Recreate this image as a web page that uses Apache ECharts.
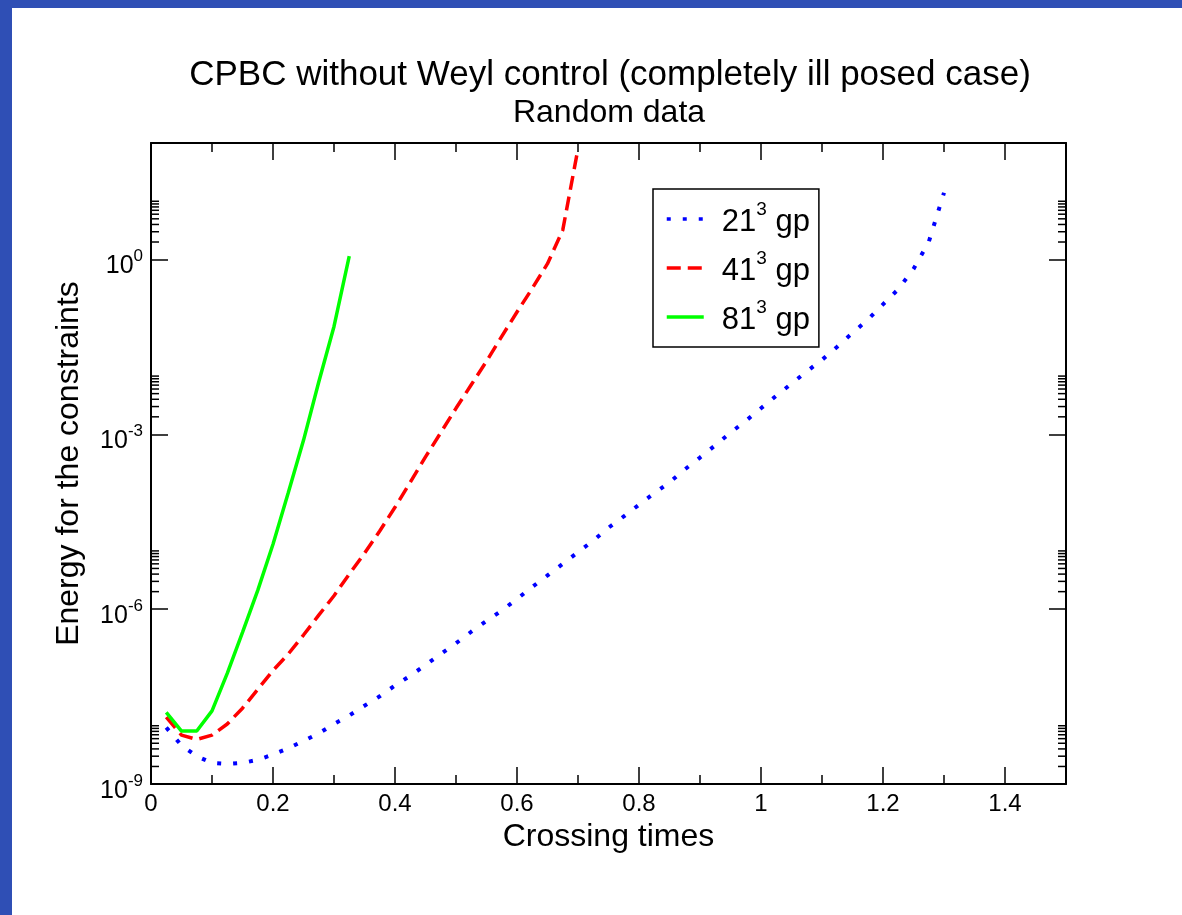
<!DOCTYPE html>
<html>
<head>
<meta charset="utf-8">
<script src="https://cdn.jsdelivr.net/npm/echarts@6/dist/echarts.min.js"></script>
<style>
html, body { margin: 0; padding: 0; background: #fff; }
#chart { width: 1182px; height: 915px; }
</style>
</head>
<body>
<div id="chart"></div>
<script>
// crossing times and constraint energies
var t21 = [0.025,0.05,0.075,0.1,0.125,0.15,0.175,0.2,0.225,0.25,0.275,0.3,0.325,0.35,0.375,0.4,0.425,0.45,0.475,0.5,
           0.525,0.55,0.575,0.6,0.625,0.65,0.675,0.7,0.725,0.75,0.775,0.8,0.825,0.85,0.875,0.9,0.925,0.95,0.975,1,
           1.025,1.05,1.075,1.1,1.125,1.15,1.175,1.2,1.225,1.25,1.275,1.3];
var e21 = [9.3e-9,4.6e-9,3.0e-9,2.3e-9,2.2e-9,2.3e-9,2.6e-9,3.2e-9,4.1e-9,5.5e-9,7.4e-9,1.07e-8,1.5e-8,2.2e-8,3.2e-8,
           4.9e-8,7.2e-8,1.1e-7,1.7e-7,2.6e-7,4.1e-7,6.3e-7,9.5e-7,1.5e-6,2.4e-6,3.8e-6,6.0e-6,9.5e-6,1.5e-5,2.5e-5,
           3.9e-5,6.2e-5,9.8e-5,1.5e-4,2.5e-4,4.0e-4,6.5e-4,1.07e-3,1.7e-3,2.8e-3,4.6e-3,7.4e-3,1.2e-2,1.9e-2,3.2e-2,
           5.5e-2,9.3e-2,0.17,0.31,0.69,2.0,14];
var t41 = [0.025,0.05,0.075,0.1,0.125,0.15,0.175,0.2,0.225,0.25,0.275,0.3,0.325,0.35,0.375,0.4,0.425,0.45,0.475,0.5,
           0.525,0.55,0.575,0.6,0.625,0.65,0.675,0.7];
var e41 = [1.4e-8,6.9e-9,5.8e-9,6.9e-9,1.07e-8,2.0e-8,4.2e-8,8.9e-8,1.7e-7,3.6e-7,7.9e-7,1.7e-6,4.0e-6,9.1e-6,2.2e-5,
           5.6e-5,1.5e-4,4.1e-4,1.07e-3,2.8e-3,7.1e-3,1.8e-2,4.8e-2,0.126,0.32,0.85,3.2,80];
var t81 = [0.025,0.05,0.075,0.1,0.125,0.15,0.175,0.2,0.225,0.25,0.275,0.3,0.325];
var e81 = [1.7e-8,8.1e-9,8.1e-9,1.8e-8,7.9e-8,4.0e-7,2.1e-6,1.3e-5,1.0e-4,7.9e-4,7.9e-3,7.1e-2,1.15];

var gridSizes = ['21', '41', '81'];
var xMinorTicks = [0.1,0.3,0.5,0.7,0.9,1.1,1.3];
var yMinorMant = [2,3,4,5,6,7,8,9,10];
var yMajorDecades = [-9,-6,-3,0];

var FONT = '"Liberation Sans", Arial, Helvetica, sans-serif';

function pairs(t, e) {
	return t.map(function (x, i) { return [x, e[i]]; });
}
var yMinorTicks = [];
yMajorDecades.forEach(function (d) {
	yMinorMant.forEach(function (m) { yMinorTicks.push([0, m * Math.pow(10, d)]); });
});

function renderYMinor(params, api) {
	var cs = params.coordSys;
	var y = api.coord([0, api.value(1)])[1];
	return {
		type: 'group',
		children: [
			{type: 'line', shape: {x1: cs.x, y1: y, x2: cs.x + 8, y2: y}, style: {stroke: '#000', lineWidth: 1.5}},
			{type: 'line', shape: {x1: cs.x + cs.width - 8, y1: y, x2: cs.x + cs.width, y2: y}, style: {stroke: '#000', lineWidth: 1.5}}
		]
	};
}
function renderXMinor(params, api) {
	var cs = params.coordSys;
	var x = api.coord([api.value(0), 1])[0];
	return {
		type: 'group',
		children: [
			{type: 'line', shape: {x1: x, y1: cs.y + cs.height, x2: x, y2: cs.y + cs.height - 9}, style: {stroke: '#000', lineWidth: 1.5}},
			{type: 'line', shape: {x1: x, y1: cs.y, x2: x, y2: cs.y + 9}, style: {stroke: '#000', lineWidth: 1.5}}
		]
	};
}

var chart = echarts.init(document.getElementById('chart'));
function xBase() {
	return {
		type: 'value', min: 0, max: 1.5, interval: 0.2,
		axisLine: {show: true, onZero: false, lineStyle: {color: '#000', width: 2}},
		axisTick: {show: true, inside: true, length: 17, lineStyle: {color: '#000', width: 1.5}},
		splitLine: {show: false}
	};
}
function yBase() {
	return {
		type: 'log', logBase: 10, min: 1e-9, max: 1e2, interval: 3,
		axisLine: {show: true, onZero: false, lineStyle: {color: '#000', width: 2}},
		axisTick: {show: true, inside: true, length: 17, lineStyle: {color: '#000', width: 1.5}},
		splitLine: {show: false}
	};
}

var option = {
	animation: false,
	backgroundColor: '#fff',
	textStyle: {fontFamily: FONT, color: '#000'},
	graphic: [
		{type: 'rect', left: 0, top: 0, shape: {width: 12, height: 915}, style: {fill: '#2f4fb5'}},
		{type: 'rect', left: 0, top: 0, shape: {width: 1182, height: 8}, style: {fill: '#2f4fb5'}},
		{type: 'text', x: 610, y: 75, style: {text: 'CPBC without Weyl control (completely ill posed case)', font: '35px ' + FONT, fill: '#000', textAlign: 'center', textVerticalAlign: 'middle'}},
		{type: 'text', x: 609, y: 113, style: {text: 'Random data', font: '32px ' + FONT, fill: '#000', textAlign: 'center', textVerticalAlign: 'middle'}}
	],
	grid: {left: 151, right: 116, top: 143, bottom: 131},
	legend: {
		data: gridSizes,
		orient: 'vertical',
		left: 653, top: 189,
		padding: [11, 9, 11, 12],
		itemGap: 11,
		itemWidth: 37, itemHeight: 20,
		borderColor: '#000', borderWidth: 1.5,
		backgroundColor: '#fff',
		itemStyle: {opacity: 0},
		lineStyle: {width: 3.5},
		formatter: function (name) { return '{g|}{b|' + name + '}{s|3}{b| gp}'; },
		textStyle: {
			fontFamily: FONT, color: '#000',
			rich: {
				g: {width: 13},
				b: {fontSize: 31, fontFamily: FONT, verticalAlign: 'bottom'},
				s: {fontSize: 19, fontFamily: FONT, verticalAlign: 'top', padding: [0, 0, 19, 0]}
			}
		}
	},
	xAxis: [
		Object.assign(xBase(), {
			position: 'bottom',
			name: 'Crossing times', nameLocation: 'middle', nameGap: 33,
			nameTextStyle: {fontSize: 32, fontFamily: FONT, color: '#000'},
			axisLabel: {fontSize: 24, fontFamily: FONT, color: '#000', margin: 8, showMaxLabel: false}
		}),
		Object.assign(xBase(), {position: 'top', axisLabel: {show: false}})
	],
	yAxis: [
		Object.assign(yBase(), {
			position: 'left',
			name: 'Energy for the constraints', nameLocation: 'middle', nameGap: 66,
			nameTextStyle: {fontSize: 32, fontFamily: FONT, color: '#000'},
			axisLabel: {
				margin: 8, showMaxLabel: false, padding: [8, 0, 0, 0],
				formatter: function (v) { return '{b|10}{s|' + Math.round(Math.log10(v)) + '}'; },
				rich: {
					b: {fontSize: 25, fontFamily: FONT, color: '#000', verticalAlign: 'bottom'},
					s: {fontSize: 17, fontFamily: FONT, color: '#000', verticalAlign: 'top', padding: [0, 0, 14, 0]}
				}
			}
		}),
		Object.assign(yBase(), {position: 'right', axisLabel: {show: false}})
	],
	series: [
		{
			name: gridSizes[0], type: 'line', data: pairs(t21, e21), symbol: 'none',
			lineStyle: {color: '#0000ff', width: 4, type: [4, 12]}, itemStyle: {color: '#0000ff'}
		},
		{
			name: gridSizes[1], type: 'line', data: pairs(t41, e41), symbol: 'none',
			lineStyle: {color: '#ff0000', width: 3.5, type: [14, 7]}, itemStyle: {color: '#ff0000'}
		},
		{
			name: gridSizes[2], type: 'line', data: pairs(t81, e81), symbol: 'none',
			lineStyle: {color: '#00ff00', width: 3.5}, itemStyle: {color: '#00ff00'}
		},
		{type: 'custom', silent: true, data: yMinorTicks, renderItem: renderYMinor, z: 5},
		{type: 'custom', silent: true, data: xMinorTicks.map(function (v) { return [v, 1]; }), renderItem: renderXMinor, z: 5}
	]
};
chart.setOption(option);
</script>
</body>
</html>
